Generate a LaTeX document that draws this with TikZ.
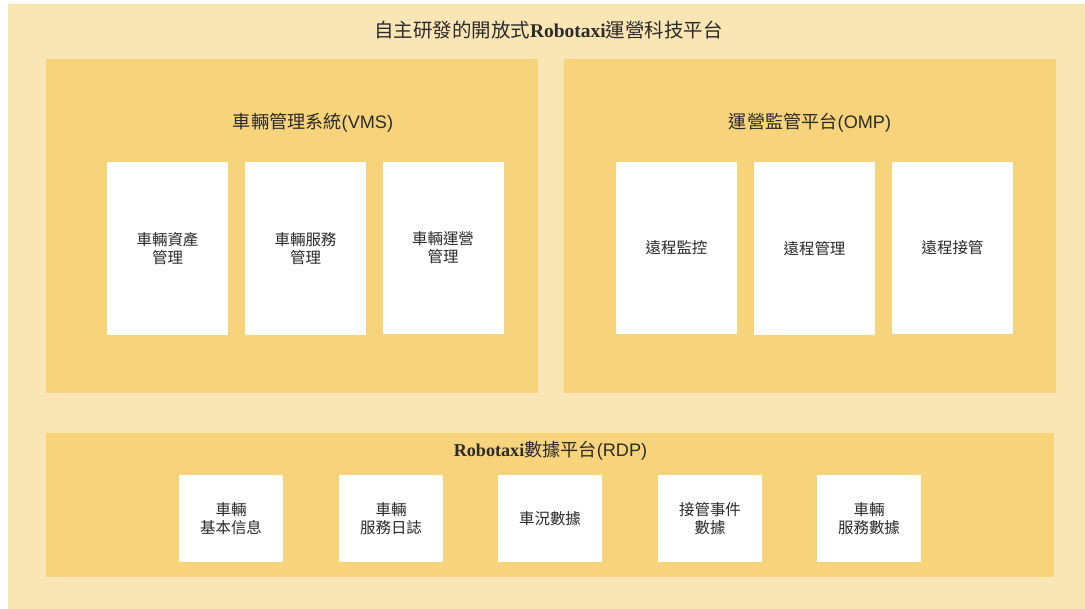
\documentclass[tikz,border=0pt]{standalone}
\usepackage{fontspec}
\setmainfont{Liberation Sans}
\newfontfamily\cjk{Noto Sans CJK TC}
\newfontfamily\tms{Liberation Serif}
\definecolor{outerbg}{HTML}{FAE5B5}
\definecolor{groupbg}{HTML}{F7D47B}
\definecolor{txt}{HTML}{2B2B2B}
\tikzset{
  outer/.style={fill=outerbg, inner sep=0, minimum width=807.75pt, minimum height=453.75pt},
  group/.style={fill=groupbg, inner sep=0},
  title/.style={text=txt, inner sep=0, font=\fontsize{13.6}{16}\selectfont},
  cell/.style={fill=white, text=txt, inner sep=0, align=center, font=\cjk\fontsize{11.6}{13.5}\selectfont},
  tallcell/.style={cell, minimum width=90.75pt, minimum height=129.5pt},
  smallcell/.style={cell, minimum width=78pt, minimum height=65.25pt}
}
\begin{document}
\begin{tikzpicture}[x=0.75pt,y=-0.75pt]
\useasboundingbox (0,0) rectangle (1085,609);
\node[outer] (platform) at (546.5,306.5){};
\node[title, font=\fontsize{14.6}{17}\selectfont] (platformtitle) at (548.5,30){{\cjk 自主研發的開放式}{\tms\bfseries Robotaxi}{\cjk 運營科技平台}};
\node[group, minimum width=369pt, minimum height=250.5pt] (vms) at (292,226){};
\node[group, minimum width=369pt, minimum height=250.5pt] (omp) at (810,226){};
\node[group, minimum width=756pt, minimum height=108pt] (rdp) at (550,505){};
\node[title] (vmstitle) at (313,123){{\cjk 車輛管理系統}(VMS)};
\node[title] (omptitle) at (810,123){{\cjk 運營監管平台}(OMP)};
\node[title] (rdptitle) at (550.5,451){{\tms\bfseries Robotaxi}{\cjk 數據平台}(RDP)};
\node[tallcell] (vms1) at (167.5,248.5){車輛資產\\管理};
\node[tallcell] (vms2) at (305.5,248.5){車輛服務\\管理};
\node[tallcell] (vms3) at (443,248){車輛運營\\管理};
\node[tallcell] (omp1) at (676.5,248){遠程監控};
\node[tallcell] (omp2) at (814.5,248.5){遠程管理};
\node[tallcell] (omp3) at (952.5,248){遠程接管};
\node[smallcell] (rdp1) at (231,518.5){車輛\\基本信息};
\node[smallcell] (rdp2) at (391,518.5){車輛\\服務日誌};
\node[smallcell] (rdp3) at (550,518.5){車況數據};
\node[smallcell] (rdp4) at (710,518.5){接管事件\\數據};
\node[smallcell] (rdp5) at (869,518.5){車輛\\服務數據};
\end{tikzpicture}
\end{document}
